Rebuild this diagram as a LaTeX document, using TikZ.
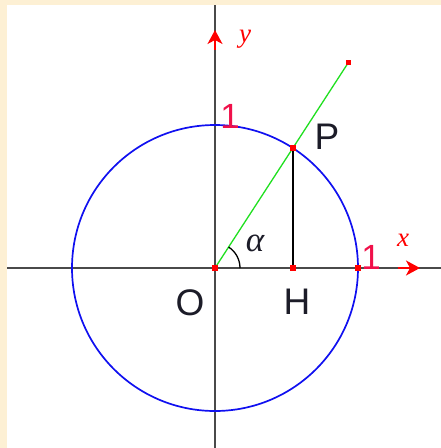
\documentclass[tikz,border=0pt]{standalone}
\usepackage{fontspec}
\setmainfont{Liberation Sans}
\newfontfamily\serifit{Liberation Serif}
\usetikzlibrary{arrows.meta}
\definecolor{cream}{HTML}{FDF0D4}
\definecolor{axisgray}{HTML}{4A4A4A}
\definecolor{onered}{HTML}{F0104A}
\definecolor{axred}{HTML}{FF0000}
\definecolor{raygreen}{HTML}{20E020}
\definecolor{circblue}{HTML}{1010F0}
\definecolor{lbldark}{HTML}{1C1C28}
\begin{document}
\begin{tikzpicture}[x=1pt,y=-1pt,
  axis/.style={axisgray, line width=1.8pt},
  axarrow/.style={axred, line width=1.6pt, -{Stealth[length=14pt,width=15pt,inset=4pt]}},
  pt/.style={rectangle, fill=axred, minimum size=5.5pt, inner sep=0pt},
  lbl/.style={text=lbldark, inner sep=0pt, font=\fontsize{37}{37}\selectfont},
  onelbl/.style={text=onered, inner sep=0pt, font=\fontsize{35}{35}\selectfont},
  axlbl/.style={text=axred, inner sep=0pt, font=\serifit\itshape\fontsize{27}{27}\selectfont},
  anglbl/.style={text=lbldark, inner sep=0pt, font=\serifit\itshape\fontsize{35}{35}\selectfont}]
\fill[cream] (0,0) rectangle (441,448);
\fill[white] (7,5) rectangle (441,448);
\useasboundingbox (0,0) rectangle (441,448);
% coordinates
\coordinate (O) at (215,268);
\coordinate (XL) at (7,268);
\coordinate (XR) at (441,268);
\coordinate (YT) at (215,5);
\coordinate (YB) at (215,448);
\coordinate (P) at (292.9,148.1);
\coordinate (H) at (292.9,268);
\coordinate (E) at (348.4,62.5);
\coordinate (Q) at (358,268);
\coordinate (XA0) at (398,268);
\coordinate (XA1) at (420,268);
\coordinate (YA0) at (215,50);
\coordinate (YA1) at (215,30);
% axes
\draw[axis] (XL) -- (XR);
\draw[axis] (YT) -- (YB);
\draw[axarrow] (XA0) -- (XA1);
\draw[axarrow] (YA0) -- (YA1);
% circle
\draw[circblue, line width=1.7pt] (O) circle[radius=143pt];
% ray and projection
\draw[raygreen, line width=1.3pt] (O) -- (E);
\draw[black, line width=1.8pt] (P) -- (H);
% angle arc
\draw[black, line width=1.3pt] (O) ++(25pt,0pt) arc[start angle=0, end angle=57, radius=25pt];
% points
\node[pt] (pO) at (O) {};
\node[pt] (pP) at (P) {};
\node[pt] (pH) at (H) {};
\node[pt] (pQ) at (Q) {};
\node[pt] (pE) at (E) {};
% labels
\node[lbl] (lP) at (327,137) {P};
\node[lbl] (lO) at (190,303) {O};
\node[lbl] (lH) at (297,302) {H};
\node[onelbl] (l1y) at (230,116) {1};
\node[onelbl] (l1x) at (371,257) {1};
\node[axlbl] (lx) at (403,240) {x};
\node[axlbl] (ly) at (245,39) {y};
\node[anglbl] (la) at (255,243) {α};
\end{tikzpicture}
\end{document}
